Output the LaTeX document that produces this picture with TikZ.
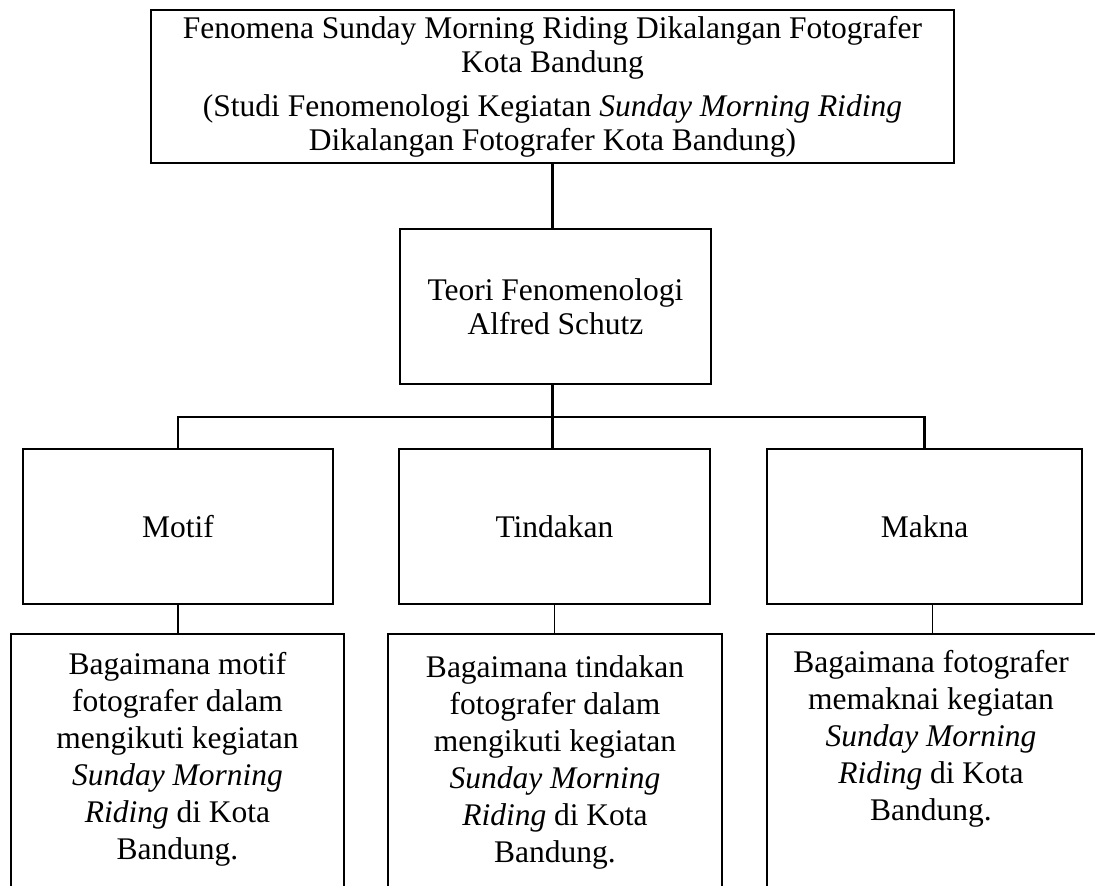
\documentclass[tikz,border=0pt]{standalone}
\usepackage{fontspec}
\setmainfont{Liberation Serif}
\begin{document}
\begin{tikzpicture}[x=1pt,y=-1pt,
  box/.style={draw,line width=2.4pt,inner sep=0pt,align=center,
    font=\fontsize{31.5}{34}\selectfont},
  leaf/.style={draw,line width=1.6pt,inner sep=0pt},
  btext/.style={anchor=north,inner sep=0pt,align=center,
    font=\fontsize{31.5}{37}\selectfont},
  trunk/.style={line width=2.4pt},
  twig/.style={line width=1.2pt}]
\clip (0,0) rectangle (1095,886);
\fill[white] (0,0) rectangle (1095,886);

\node[box,minimum width=803pt,minimum height=153pt] (top) at (552.5,86.5)
  {Fenomena Sunday Morning Riding Dikalangan Fotografer\\
   Kota Bandung\\[10pt]
   (Studi Fenomenologi Kegiatan \textit{Sunday Morning Riding}\\
   Dikalangan Fotografer Kota Bandung)};

\node[box,minimum width=311pt,minimum height=155pt] (teori) at (555.5,306.5)
  {Teori Fenomenologi\\Alfred Schutz};

\node[box,minimum width=310pt,minimum height=155pt] (motif) at (178,526.5) {Motif};
\node[box,minimum width=311pt,minimum height=155pt] (tind) at (554.5,526.5) {Tindakan};
\node[box,minimum width=315pt,minimum height=155pt] (makna) at (924.5,526.5) {Makna};

\node[leaf,minimum width=333pt,minimum height=280pt] (b1) at (177.5,774) {};
\node[leaf,minimum width=334pt,minimum height=280pt] (b2) at (555,774) {};
\node[leaf,minimum width=331pt,minimum height=280pt] (b3) at (932.5,774) {};

\node[btext] (t1) at (177.5,652.5)
  {Bagaimana motif\\fotografer dalam\\mengikuti kegiatan\\\textit{Sunday Morning}\\\textit{Riding} di Kota\\Bandung.};
\node[btext] (t2) at (555,655.5)
  {Bagaimana tindakan\\fotografer dalam\\mengikuti kegiatan\\\textit{Sunday Morning}\\\textit{Riding} di Kota\\Bandung.};
\node[btext] (t3) at (931,650.5)
  {Bagaimana fotografer\\memaknai kegiatan\\\textit{Sunday Morning}\\\textit{Riding} di Kota\\Bandung.};

\coordinate (hub) at (552,417);
\draw[trunk] (top.south) -- (top.south |- teori.north);
\draw[trunk] (top.south |- teori.south) -- (top.south |- tind.north);
\draw[trunk] (motif.north) -- (motif.north |- hub) -- (makna.north |- hub) -- (makna.north);

\draw[twig] (motif.south) -- (motif.south |- b1.north);
\draw[twig] (tind.south) -- (tind.south |- b2.north);
\draw[twig] (b3.north |- makna.south) -- (b3.north);
\end{tikzpicture}
\end{document}
